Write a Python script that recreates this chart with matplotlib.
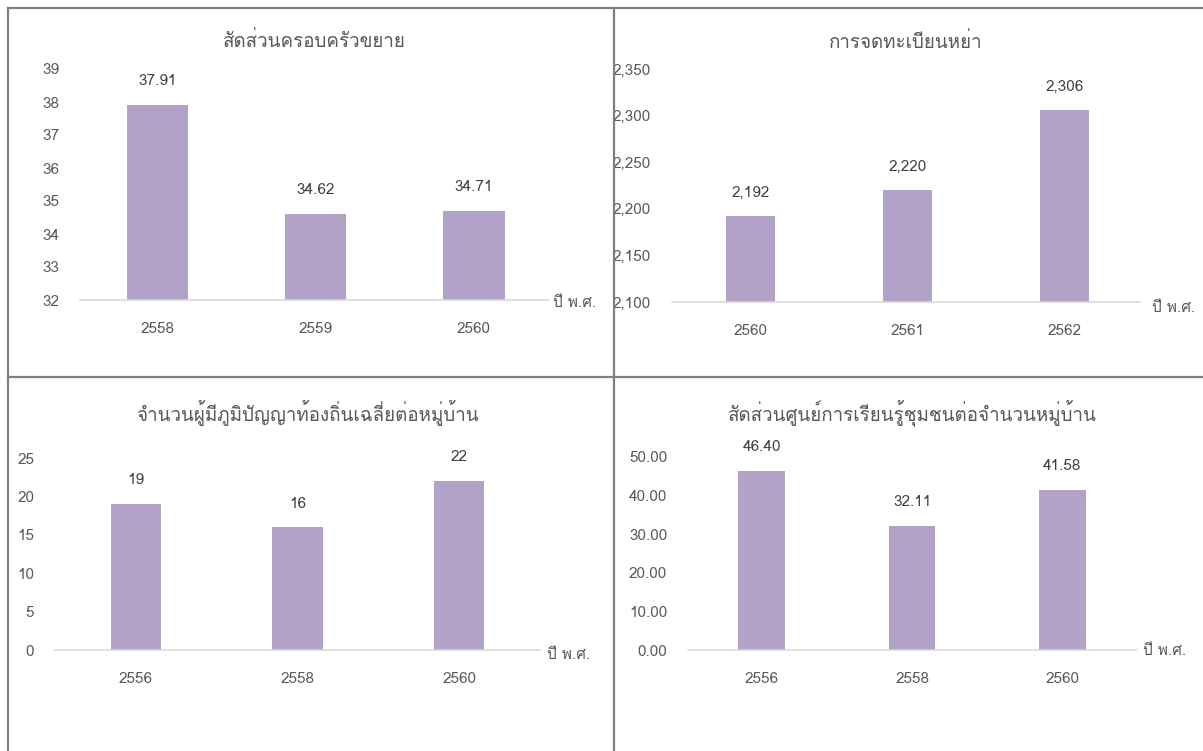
import matplotlib
matplotlib.use("Agg")
import matplotlib.pyplot as plt
from matplotlib import font_manager
from matplotlib.ft2font import FT2Font
from matplotlib.lines import Line2D


# หา font ที่มีอักษรไทย
def thai_family():
    for f in font_manager.fontManager.ttflist:
        try:
            if FT2Font(f.fname).get_char_index(ord("ก")):
                return f.name
        except Exception:
            pass
    return "DejaVu Sans"


THAI = thai_family()
plt.rcParams["font.family"] = [THAI, "DejaVu Sans"]

# ข้อมูล
titles = [
    "สัดส่วนครอบครัวขยาย",
    "การจดทะเบียนหย่า",
    "จำนวนผู้มีภูมิปัญญาท้องถิ่นเฉลี่ยต่อหมู่บ้าน",
    "สัดส่วนศูนย์การเรียนรู้ชุมชนต่อจำนวนหมู่บ้าน",
]
years_1 = ["2558", "2559", "2560"]
values_1 = [37.91, 34.62, 34.71]
years_2 = ["2560", "2561", "2562"]
values_2 = [2192, 2220, 2306]
years_3 = ["2556", "2558", "2560"]
values_3 = [19, 16, 22]
years_4 = ["2556", "2558", "2560"]
values_4 = [46.40, 32.11, 41.58]
xlabel = "ปี พ.ศ."

W, H = 1203, 751
BAR = "#b3a2c7"
TXT = "#595959"
VAL = "#404040"
AXL = "#d9d9d9"


def box(x0, y0, x1, y1):
    return [x0 / W, 1 - y1 / H, (x1 - x0) / W, (y1 - y0) / H]


fig = plt.figure(figsize=(W / 100, H / 100), dpi=100)
fig.patch.set_facecolor("white")

panels = [
    # title, years, values, box, xlim, ylim, yticks, fmt, bar width, title dy, title dx, xlabel offset
    (titles[0], years_1, values_1, box(80, 69, 548, 300), (-0.49, 2.47), (32, 39),
     range(32, 40), lambda v: f"{v:.0f}", lambda v: f"{v:.2f}", 0.39, 28, 0, (5, -3)),
    (titles[1], years_2, values_2, box(672, 69, 1140, 302), (-0.50, 2.48), (2100, 2350),
     range(2100, 2351, 50), lambda v: f"{v:,.0f}", lambda v: f"{v:,.0f}", 0.31, 27, 0, (12, -6)),
    (titles[2], years_3, values_3, box(55, 458, 540, 650), (-0.50, 2.50), (0, 25),
     range(0, 26, 5), lambda v: f"{v:.0f}", lambda v: f"{v:.0f}", 0.31, 45, 10, (7, -5)),
    (titles[3], years_4, values_4, box(688, 457, 1136, 650), (-0.49, 2.49), (0, 50),
     range(0, 51, 10), lambda v: f"{v:.2f}", lambda v: f"{v:.2f}", 0.31, 44, 0, (7, -1)),
]

for (title, years, vals, rect, xlim, ylim, yt, tfmt, vfmt, bw, tdy, tdx, xoff) in panels:
    ax = fig.add_axes(rect)
    x = list(range(len(years)))
    bars = ax.bar(x, vals, width=bw, color=BAR, zorder=2)
    ax.set_xlim(*xlim)
    ax.set_ylim(*ylim)
    ax.set_xticks(x)
    ax.set_xticklabels(years)
    ax.set_yticks(list(yt))
    ax.set_yticklabels([tfmt(v) for v in yt])
    for s in ["top", "right", "left"]:
        ax.spines[s].set_visible(False)
    ax.spines["bottom"].set_color(AXL)
    ax.spines["bottom"].set_linewidth(1.2)
    ax.tick_params(axis="both", length=0, colors=TXT, labelsize=11)
    ax.tick_params(axis="y", pad=15)
    ax.tick_params(axis="x", pad=16)
    for b, v in zip(bars, vals):
        ax.annotate(vfmt(v), xy=(b.get_x() + b.get_width() / 2, v),
                    xytext=(0, 17), textcoords="offset points",
                    ha="center", va="center", fontsize=11, color=VAL)
    ax.annotate(title, xy=(0.5, 1), xycoords="axes fraction",
                xytext=(tdx * 0.72, tdy * 0.72), textcoords="offset points",
                ha="center", va="center", fontsize=13.5, color=TXT)
    ax.annotate(xlabel, xy=(1, 0), xycoords="axes fraction",
                xytext=(xoff[0] * 0.72, xoff[1] * 0.72), textcoords="offset points",
                ha="left", va="center", fontsize=11, color=TXT)

# กรอบของแต่ละแผง
border = dict(color="#7f7f7f", lw=1.6, transform=fig.transFigure)
for (x0, y0, x1, y1) in [(8, 8, W, 8), (8, 377, W, 377), (8, 8, 8, H), (614, 8, 614, H)]:
    fig.add_artist(Line2D([x0 / W, x1 / W], [1 - y0 / H, 1 - y1 / H], **border))

fig.savefig("out.png", dpi=100, facecolor="white")
